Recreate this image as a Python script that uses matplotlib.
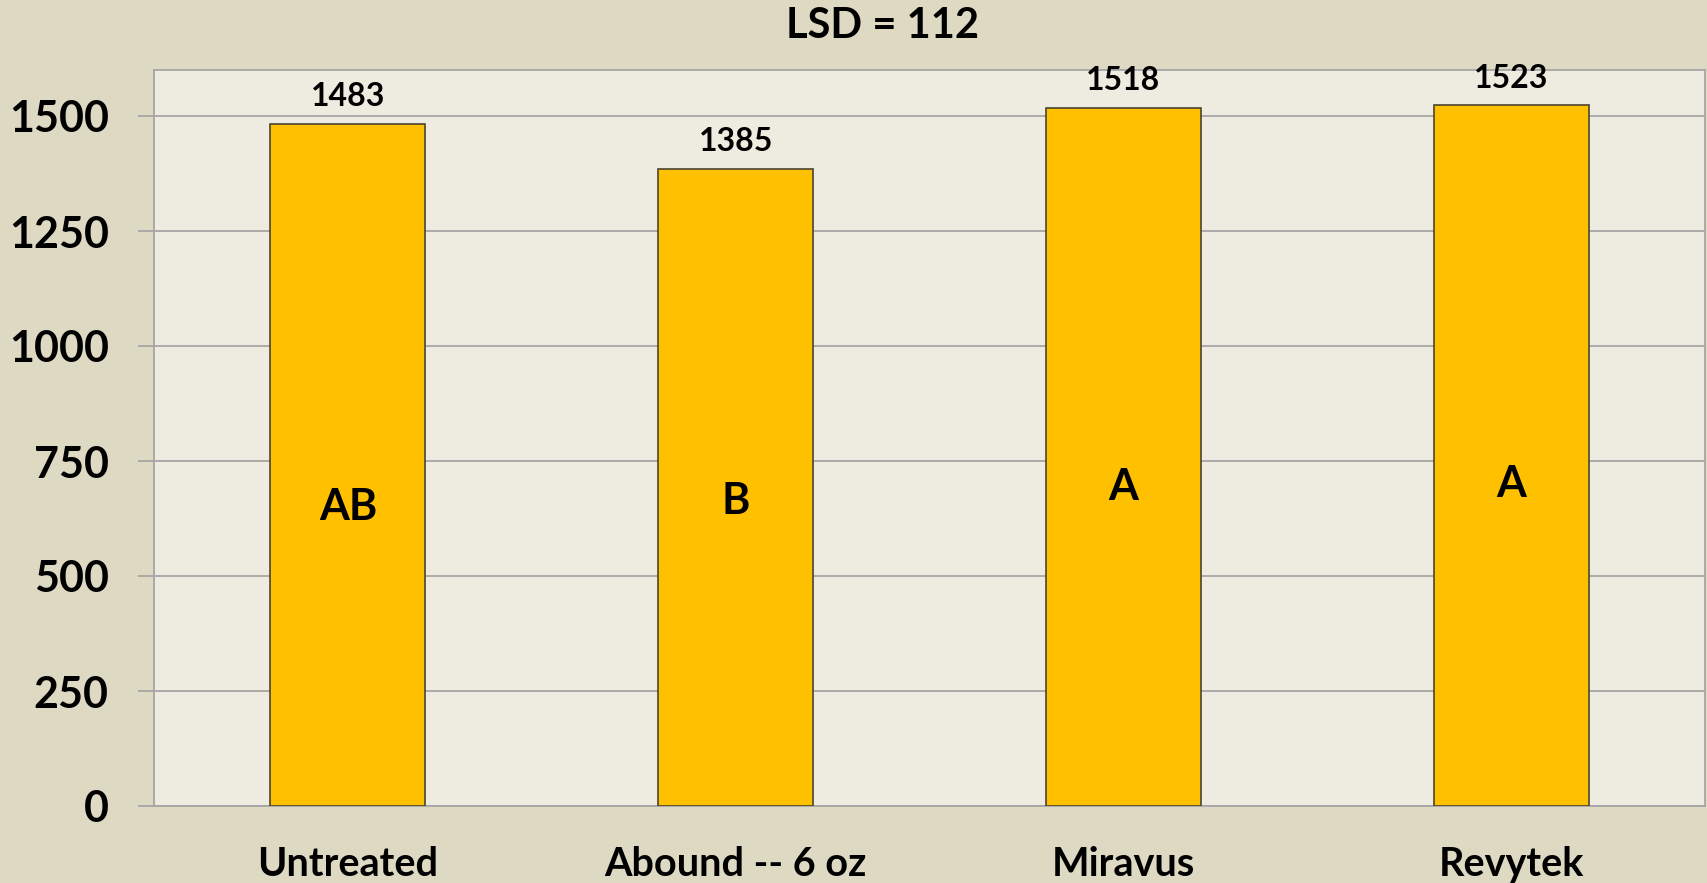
import matplotlib
matplotlib.use("Agg")
import matplotlib.pyplot as plt

# datos del grafico
tratamientos = ["Untreated", "Abound -- 6 oz", "Miravus", "Revytek"]
rendimiento = [1483, 1385, 1518, 1523]
letras = ["AB", "B", "A", "A"]
titulo = "LSD = 112"
marcas_y = [0, 250, 500, 750, 1000, 1250, 1500]

COLOR_BARRA = "#FFC000"
COLOR_FONDO = "#DDD9C3"
COLOR_AREA = "#EEECE1"
COLOR_LINEA = "#A6A6A6"

plt.rcParams["font.family"] = ["Lato", "DejaVu Sans"]
plt.rcParams["font.weight"] = "bold"

figura = plt.figure(figsize=(17.08, 8.83), dpi=100, facecolor=COLOR_FONDO)
ejes = figura.add_axes([154 / 1708, 1 - 806 / 883, (1705 - 154) / 1708, (806 - 70) / 883])
ejes.set_facecolor(COLOR_AREA)

posiciones = list(range(len(tratamientos)))
ejes.bar(posiciones, rendimiento, width=0.4, color=COLOR_BARRA,
         edgecolor="#4A4530", linewidth=1.2, zorder=3)

# valores encima de cada barra
for x, v in zip(posiciones, rendimiento):
    ejes.annotate(str(v), (x, v), xytext=(0, 9), textcoords="offset points",
                  ha="center", va="bottom", fontsize=23, fontweight="bold", color="black")

# letras de separacion de medias dentro de las barras
altura_letras = [650, 663, 693, 699]
for x, l, h in zip(posiciones, letras, altura_letras):
    ejes.text(x, h, l, ha="center", va="center", fontsize=31, fontweight="bold", color="black", zorder=4)

ejes.set_xlim(-0.5, len(tratamientos) - 0.5)
ejes.set_ylim(0, 1600)
ejes.set_yticks(marcas_y)
ejes.set_yticklabels([str(m) for m in marcas_y], fontsize=31, fontweight="bold")
ejes.set_xticks(posiciones)
ejes.set_xticklabels(tratamientos, fontsize=28.5, fontweight="bold")

ejes.grid(True, axis="y", color=COLOR_LINEA, linewidth=1.3, zorder=0)
ejes.tick_params(axis="y", length=11.5, width=1.3, color=COLOR_LINEA, pad=21)
ejes.tick_params(axis="x", length=0, pad=29)
for lado in ejes.spines.values():
    lado.set_color(COLOR_LINEA)
    lado.set_linewidth(1.3)

figura.text(883 / 1708, 1 - 26 / 883, titulo, ha="center", va="center",
            fontsize=30, fontweight="bold", color="black")

figura.savefig("out.png", dpi=100, facecolor=COLOR_FONDO)
plt.close(figura)
